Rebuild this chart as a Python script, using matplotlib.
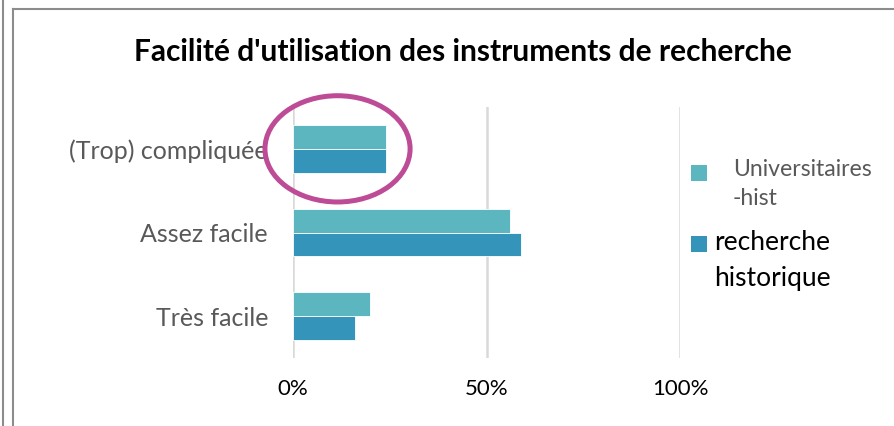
import numpy as np
import matplotlib.pyplot as plt
from matplotlib.lines import Line2D
from matplotlib.patches import Ellipse, Rectangle
from matplotlib.ticker import PercentFormatter

categories = ["(Trop) compliquée", "Assez facile", "Très facile"]
universitaires = [0.24, 0.56, 0.20]
recherche = [0.24, 0.59, 0.16]
series_names = ["Universitaires\n-hist", "recherche\nhistorique"]
c_light = "#5BB6C0"
c_dark = "#3494BA"

plt.rcParams['font.family'] = ['Lato', 'DejaVu Sans']

W, H = 895, 426
fig = plt.figure(figsize=(W / 100, H / 100), dpi=100)
ax = fig.add_axes([0.3274, 0.1596, 0.4324, 0.5892])

y = np.arange(len(categories))
h = 0.286
ax.barh(y - h / 2, universitaires, height=h, color=c_light, edgecolor="white", linewidth=0.6)
ax.barh(y + h / 2, recherche, height=h, color=c_dark, edgecolor="white", linewidth=0.6)

ax.set_xlim(0, 1)
ax.set_ylim(2.5, -0.5)
ax.set_xticks([0, 0.5, 1])
ax.xaxis.set_major_formatter(PercentFormatter(1.0, decimals=0))
ax.set_yticks(y)
ax.set_yticklabels(categories, color="#595959", fontsize=18)
ax.tick_params(axis="y", length=0, pad=18)
ax.tick_params(axis="x", length=0, pad=15, labelsize=16, labelcolor="black")
ax.grid(axis="x", color="#d9d9d9", linewidth=1.8)
ax.set_axisbelow(True)
for s in ax.spines.values():
    s.set_visible(False)

# highlight ring around the first category
ax.add_patch(Ellipse((0.115, 0.0), 0.375, 1.27, fill=False, edgecolor="#BE4B95",
                     linewidth=3.6, clip_on=False, zorder=5))

fig.text(0.517, 1 - 61 / H, "Facilité d'utilisation des instruments de recherche",
         ha="center", va="baseline", fontsize=21.5, fontweight="bold")

# legend, laid out by hand like the original (text anchored on last line baseline)
sq = 16
leg_rows = [
    (c_light, 165, 733, 205, "#595959", 16.6, 1.49),
    (c_dark, 236, 714, 286, "black", 19, 1.53),
]
for (col, top, tx, base, tcol, fs, ls), name in zip(leg_rows, series_names):
    fig.add_artist(Rectangle((691 / W, 1 - (top + sq) / H), sq / W, sq / H,
                             facecolor=col, edgecolor="none", transform=fig.transFigure))
    fig.text(tx / W, 1 - base / H, name, ha="left", va="baseline", color=tcol,
             fontsize=fs, linespacing=ls)

# frame lines of the original document
fc = "#8c8c8c"
fig.add_artist(Line2D([3 / W, 3 / W], [0, 1], color=fc, lw=1.5))
fig.add_artist(Line2D([13 / W, 13 / W], [0, 1 - 9 / H], color=fc, lw=1.5))
fig.add_artist(Line2D([13 / W, 1], [1 - 9 / H, 1 - 9 / H], color=fc, lw=1.5))

fig.savefig("out.png", dpi=100)
